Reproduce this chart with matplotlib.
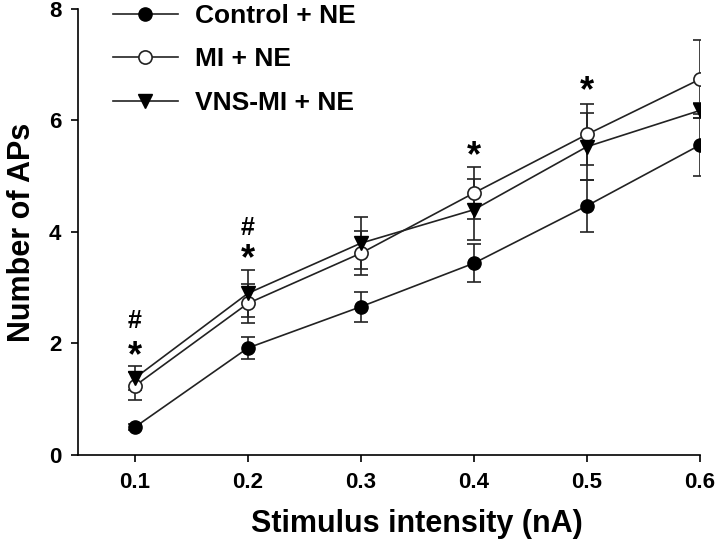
import numpy as np
import matplotlib.pyplot as plt
from matplotlib.lines import Line2D

plt.rcParams['font.family'] = ['Liberation Sans', 'DejaVu Sans']
plt.rcParams['font.weight'] = 'bold'

# stimulus intensities (nA)
stim = [0.1, 0.2, 0.3, 0.4, 0.5, 0.6]

ctrl = [0.50, 1.92, 2.66, 3.44, 4.47, 5.56]
ctrl_err = [0.06, 0.20, 0.27, 0.34, 0.47, 0.56]

mi = [1.24, 2.72, 3.62, 4.70, 5.75, 6.74]
mi_err = [0.25, 0.35, 0.40, 0.46, 0.55, 0.70]

vns = [1.38, 2.90, 3.80, 4.40, 5.53, 6.18]
vns_err = [0.22, 0.42, 0.46, 0.55, 0.60, 0.14]

# significance marks: (x, y, symbol)
marks_x = [0.1, 0.1, 0.2, 0.2, 0.4, 0.5]
marks_y = [1.76, 2.40, 3.50, 4.07, 5.35, 6.52]
marks_s = ['*', '#', '*', '#', '*', '*']

fig = plt.figure(figsize=(7.2, 5.44), dpi=100)
ax = fig.add_axes([0.1083, 0.1636, 0.8639, 0.8199])

lc = '#222222'
kw = dict(color=lc, lw=1.2, capsize=5, elinewidth=1.2, capthick=1.2, ms=9.5)
ax.errorbar(stim, ctrl, yerr=ctrl_err, fmt='-o', mfc='black', mec='black', **kw)
ax.errorbar(stim, mi, yerr=mi_err, fmt='-o', mfc='white', mec=lc, mew=1.2, **kw)
ax.errorbar(stim, vns, yerr=vns_err, fmt='-v', mfc='black', mec='black', **kw)

for x, y, s in zip(marks_x, marks_y, marks_s):
    if s == '*':
        ax.text(x, y, s, ha='center', va='center', fontsize=26, fontweight='bold')
    else:
        ax.text(x, y, s, ha='center', va='center', fontsize=18, fontweight='bold')

ax.set_xlim(0.0496, 0.6)
ax.set_ylim(0, 8)
ax.set_xticks(stim)
ax.set_xticklabels(['0.1', '0.2', '0.3', '0.4', '0.5', '0.6'])
ax.set_yticks([0, 2, 4, 6, 8])
ax.tick_params(labelsize=16, length=5, width=1.2, direction='out', pad=7)
for s in ['top', 'right']:
    ax.spines[s].set_visible(False)
for s in ['left', 'bottom']:
    ax.spines[s].set_linewidth(1.2)

ax.set_xlabel('Stimulus intensity (nA)', fontsize=22, fontweight='bold')
ax.xaxis.set_label_coords(0.545, -0.122)
ax.set_ylabel('Number of APs', fontsize=22, fontweight='bold')
ax.yaxis.set_label_coords(-0.066, 0.5)

handles = [
    Line2D([], [], color=lc, lw=1.2, marker='o', ms=9.5, mfc='black', mec='black'),
    Line2D([], [], color=lc, lw=1.2, marker='o', ms=9.5, mfc='white', mec=lc, mew=1.2),
    Line2D([], [], color=lc, lw=1.2, marker='v', ms=9.5, mfc='black', mec='black'),
]
labels = ['Control + NE', 'MI + NE', 'VNS-MI + NE']
ax.legend(handles, labels, loc='upper left', bbox_to_anchor=(0.157, 0.993), bbox_transform=fig.transFigure,
          frameon=False, fontsize=19, handlelength=2.46, labelspacing=0.74,
          handletextpad=0.64, borderpad=0, borderaxespad=0)

fig.savefig('out.png', dpi=100)
